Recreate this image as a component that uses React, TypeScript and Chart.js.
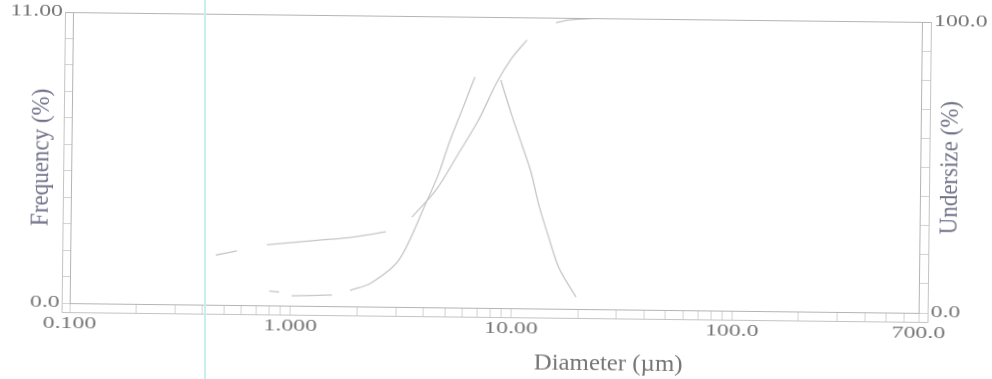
import React, { useEffect, useRef } from "react";
import { Chart, registerables } from "chart.js";

Chart.register(...registerables);

// Frequency (%) curve – diameter (µm) and value; null marks faded gaps in the scan
const freqDiameter = [0.8, 0.886, 0.95, 1.01, 1.54, 1.7, 1.86, 2.31, 3.08, 4.06, 4.63, 5.13, 5.85, 6.66, 7.6, 8.73, 9.82, 10.97, 12.08, 13.18, 14.69, 16.37, 19.6];
const freqValue = [0.54, 0.51, null, 0.37, 0.42, null, 0.6, 0.89, 1.77, 3.94, 5.08, 6.22, 7.47, 8.72, null, 8.62, 7.3, 6.17, 5.16, 3.91, 2.67, 1.54, 0.45];

// Undersize (%) curve
const undersizeDiameter = [0.457, 0.569, 0.66, 0.777, 1.38, 1.77, 2.68, 3.1, 3.51, 4.5, 5.68, 6.95, 8.35, 9.78, 11.42, 13.2, 15.4, 17.4, 25, 700];
const undersizeValue = [17.1, 18.6, null, 20.8, 22.7, 23.5, 25.7, null, 30.9, 40.3, 53.1, 64.5, 77.3, 86.0, 92.2, null, 98.2, 99.2, 100, 100];

// Axis ticks
const xTickValues = [0.1, 0.2, 0.3, 0.4, 0.5, 0.6, 0.7, 0.8, 0.9, 1, 2, 3, 4, 5, 6, 7, 8, 9, 10, 20, 30, 40, 50, 60, 70, 80, 90, 100, 200, 300, 400, 500, 600, 700];
const xLabelValues = [0.1, 1, 10, 100, 700];
const xLabelTexts = ["0.100", "1.000", "10.00", "100.0", "700.0"];
const leftTickValues = [0, 1, 2, 3, 4, 5, 6, 7, 8, 9, 10, 11];
const leftLabelValues = [0, 11];
const leftLabelTexts = ["0.0", "11.00"];
const rightTickValues = [0, 10, 20, 30, 40, 50, 60, 70, 80, 90, 100];
const rightLabelValues = [0, 100];
const rightLabelTexts = ["0.0", "100.0"];

const xTitle = "Diameter (µm)";
const leftTitle = "Frequency (%)";
const rightTitle = "Undersize (%)";

const LINE = "#c6c6c6";
const FRAME = "#b4b4b4";
const TICK = "#d2d2d2";
const TEXT = "#767676";
const TITLE = "#72728a";
const FONT = "'Liberation Serif', 'Times New Roman', serif";

function drawText(ctx: CanvasRenderingContext2D, text: string, x: number, y: number, align: CanvasTextAlign, sx: number, vertical = false) {
  ctx.save();
  ctx.translate(x, y);
  ctx.scale(sx, 1);
  if (vertical) ctx.rotate(-Math.PI / 2);
  ctx.textAlign = align;
  ctx.textBaseline = "middle";
  ctx.fillText(text, 0, 0);
  ctx.restore();
}

const scanPlugin = {
  id: "scanFrame",
  afterDraw(chart: any) {
    const { ctx, chartArea: a, scales } = chart;
    ctx.save();
    ctx.strokeStyle = FRAME;
    ctx.lineWidth = 1;
    // inner top line
    ctx.beginPath();
    ctx.moveTo(a.left - 8, Math.round(a.top) + 0.5);
    ctx.lineTo(a.right + 9, Math.round(a.top) + 0.5);
    ctx.stroke();
    // outer frame lines
    ctx.strokeStyle = "#c4c4c4";
    ctx.beginPath();
    ctx.moveTo(Math.round(a.left - 8) + 0.5, a.top);
    ctx.lineTo(Math.round(a.left - 8) + 0.5, Math.round(a.bottom + 9) + 0.5);
    ctx.lineTo(Math.round(a.right + 9) + 0.5, Math.round(a.bottom + 9) + 0.5);
    ctx.lineTo(Math.round(a.right + 9) + 0.5, a.top);
    ctx.stroke();

    // tick labels
    ctx.fillStyle = TEXT;
    ctx.font = `17px ${FONT}`;
    leftLabelValues.forEach((v, i) => {
      drawText(ctx, leftLabelTexts[i], a.left - 10, scales.y.getPixelForValue(v), "right", 1.4);
    });
    rightLabelValues.forEach((v, i) => {
      drawText(ctx, rightLabelTexts[i], a.right + 12, scales.y1.getPixelForValue(v), "left", 1.4);
    });
    xLabelValues.forEach((v, i) => {
      drawText(ctx, xLabelTexts[i], scales.x.getPixelForValue(v), a.bottom + 21, "center", 1.4);
    });

    // titles
    ctx.fillStyle = TITLE;
    ctx.font = `23px ${FONT}`;
    const midY = (a.top + a.bottom) / 2;
    drawText(ctx, leftTitle, a.left - 30, midY, "center", 1.12, true);
    drawText(ctx, rightTitle, a.right + 30, midY, "center", 1.12, true);
    ctx.fillStyle = TEXT;
    drawText(ctx, xTitle, a.left + 0.635 * (a.right - a.left), a.bottom + 55, "center", 1.08);
    ctx.restore();
  },
};

export default function App() {
  const ref = useRef<HTMLCanvasElement | null>(null);

  useEffect(() => {
    if (!ref.current) return;
    const chart = new Chart(ref.current, {
      type: "scatter",
      data: {
        datasets: [
          {
            label: leftTitle,
            data: freqDiameter.map((d, i) => ({ x: d, y: freqValue[i] as any })),
            yAxisID: "y",
            showLine: true,
            spanGaps: false,
            borderColor: LINE,
            borderWidth: 1.3,
            pointRadius: 0,
            tension: 0.3,
          },
          {
            label: rightTitle,
            data: undersizeDiameter.map((d, i) => ({ x: d, y: undersizeValue[i] as any })),
            yAxisID: "y1",
            showLine: true,
            spanGaps: false,
            borderColor: LINE,
            borderWidth: 1.3,
            pointRadius: 0,
            tension: 0.3,
          },
        ],
      },
      options: {
        animation: false,
        responsive: false,
        devicePixelRatio: 1,
        layout: { padding: { left: 63, right: 63, top: 17, bottom: 62 } },
        plugins: { legend: { display: false }, tooltip: { enabled: false } },
        scales: {
          x: {
            type: "logarithmic",
            position: "bottom",
            min: 0.1,
            max: 700,
            afterBuildTicks: (s: any) => {
              s.ticks = xTickValues.map((v) => ({ value: v }));
            },
            ticks: { display: false, autoSkip: false },
            grid: { drawOnChartArea: false, drawTicks: true, tickLength: 9, color: TICK },
            border: { display: true, color: FRAME },
          },
          y: {
            type: "linear",
            position: "left",
            min: 0,
            max: 11,
            afterBuildTicks: (s: any) => {
              s.ticks = leftTickValues.map((v) => ({ value: v }));
            },
            ticks: { display: false },
            grid: { drawOnChartArea: false, drawTicks: true, tickLength: 8, color: TICK },
            border: { display: true, color: FRAME },
          },
          y1: {
            type: "linear",
            position: "right",
            min: 0,
            max: 100,
            afterBuildTicks: (s: any) => {
              s.ticks = rightTickValues.map((v) => ({ value: v }));
            },
            ticks: { display: false },
            grid: { drawOnChartArea: false, drawTicks: true, tickLength: 9, color: TICK },
            border: { display: true, color: FRAME },
          },
        },
      } as any,
      plugins: [scanPlugin],
    });
    return () => chart.destroy();
  }, []);

  return (
    <div style={{ position: "fixed", left: 0, top: 0, width: 992, height: 379, background: "#fff", overflow: "hidden" }}>
      <canvas
        ref={ref}
        width={992}
        height={379}
        style={{ width: 992, height: 379, display: "block", transform: "rotate(0.66deg)", transformOrigin: "50% 50%", filter: "blur(0.4px)" }}
      />
      <div style={{ position: "absolute", left: 204, top: 0, width: 2, height: 379, background: "#c6f0ec" }} />
    </div>
  );
}
